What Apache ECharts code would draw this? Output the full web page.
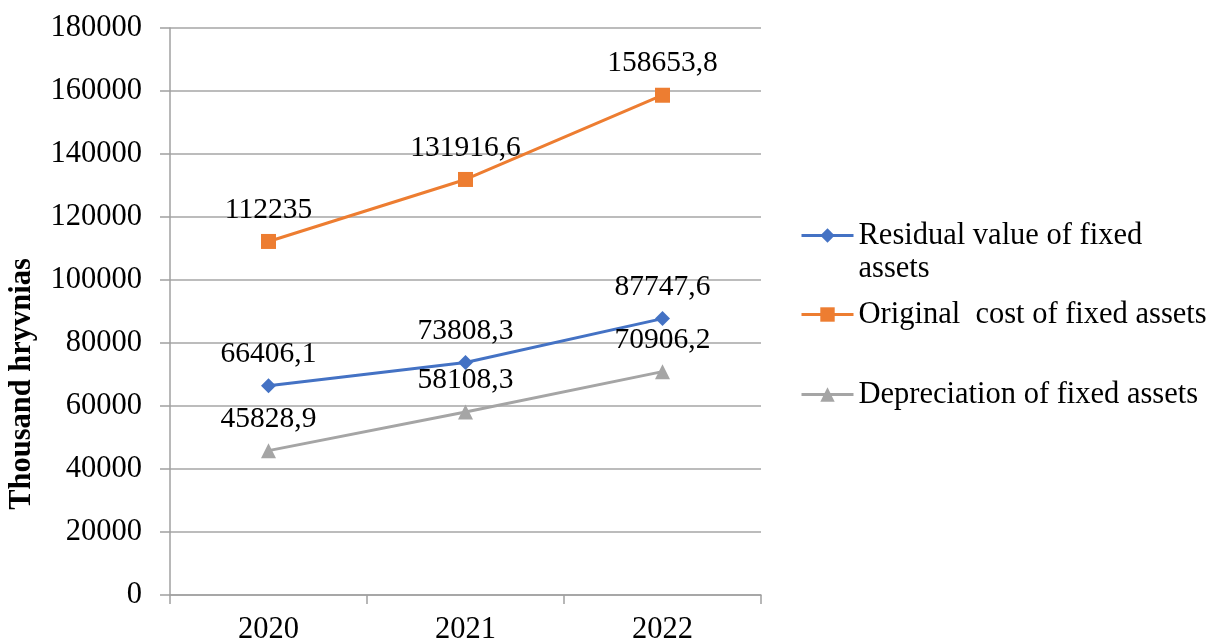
<!DOCTYPE html>
<html>
<head>
<meta charset="utf-8">
<script src="https://cdn.jsdelivr.net/npm/echarts@6/dist/echarts.min.js"></script>
<style>
  html, body { margin: 0; padding: 0; background: #fff; }
  #chart { width: 1211px; height: 641px; }
</style>
</head>
<body>
<div id="chart"></div>
<script>
// Fixed assets of the enterprise, thousand hryvnias
const years = ['2020', '2021', '2022'];
const residualValue = [66406.1, 73808.3, 87747.6];
const originalCost = [112235, 131916.6, 158653.8];
const depreciation = [45828.9, 58108.3, 70906.2];
const yTicks = { min: 0, max: 180000, interval: 20000 };

const FONT = '"Liberation Serif", "Times New Roman", serif';
const TEXT = { fontFamily: FONT, fontSize: 30.5, color: '#000' };

// values shown with a decimal comma
const fmt = p => String(p.value).replace('.', ',');

function lineSeries(name, data, color, symbol, size) {
  return {
    name: name,
    type: 'line',
    data: data,
    symbol: symbol,
    symbolSize: size,
    lineStyle: { color: color, width: 3 },
    itemStyle: { color: color },
    label: {
      show: true,
      position: 'top',
      distance: 9,
      formatter: fmt,
      fontFamily: FONT,
      fontSize: 29.5,
      color: '#000'
    },
    z: 3
  };
}

const legendBase = {
  orient: 'vertical',
  left: 800,
  padding: 0,
  itemWidth: 52,
  itemHeight: 18,
  itemGap: 5,
  selectedMode: false,
  lineStyle: { width: 3 },
  textStyle: Object.assign({ lineHeight: 33 }, TEXT)
};

const chart = echarts.init(document.getElementById('chart'));
chart.setOption({
  animation: false,
  backgroundColor: '#fff',
  grid: { left: 170, right: 450, top: 28, bottom: 46, containLabel: false, outerBoundsMode: 'none' },
  legend: [
    Object.assign({}, legendBase, {
      top: 186,
      data: ['Residual value of fixed assets'],
      formatter: () => '\nResidual value of fixed\nassets'
    }),
    Object.assign({}, legendBase, {
      top: 298,
      data: ['Original  cost of fixed assets']
    }),
    Object.assign({}, legendBase, {
      top: 378,
      data: ['Depreciation of fixed assets']
    })
  ],
  xAxis: {
    type: 'category',
    data: years,
    boundaryGap: true,
    axisLine: { show: true, lineStyle: { color: '#a0a0a0', width: 1.5 } },
    axisTick: { show: true, length: 9, lineStyle: { color: '#a0a0a0', width: 1.5 } },
    axisLabel: Object.assign({ margin: 19 }, TEXT)
  },
  yAxis: {
    type: 'value',
    min: yTicks.min,
    max: yTicks.max,
    interval: yTicks.interval,
    axisLine: { show: true, lineStyle: { color: '#a0a0a0', width: 1.5 } },
    axisTick: { show: true, length: 10, lineStyle: { color: '#a0a0a0', width: 1.5 } },
    splitLine: { show: true, lineStyle: { color: '#a6a6a6', width: 1.5 } },
    axisLabel: Object.assign({ margin: 28, formatter: v => String(v) }, TEXT)
  },
  graphic: [{
    type: 'text',
    x: 22,
    y: 384,
    rotation: Math.PI / 2,
    style: {
      text: 'Thousand hryvnias',
      fontFamily: FONT,
      fontSize: 30.5,
      fontWeight: 'bold',
      fill: '#000',
      align: 'center',
      verticalAlign: 'middle'
    }
  }],
  series: [
    lineSeries('Residual value of fixed assets', residualValue, '#4472C4', 'diamond', 15),
    lineSeries('Original  cost of fixed assets', originalCost, '#ED7D31', 'rect', 15),
    lineSeries('Depreciation of fixed assets', depreciation, '#A5A5A5', 'triangle', 15)
  ]
});
</script>
</body>
</html>
